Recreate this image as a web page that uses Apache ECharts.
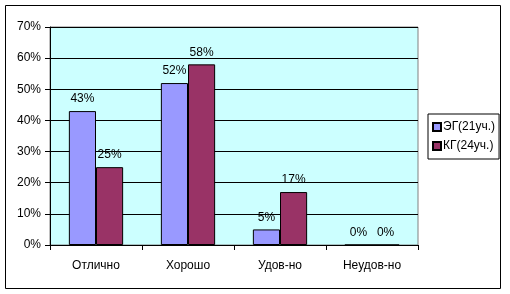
<!DOCTYPE html>
<html>
<head>
<meta charset="utf-8">
<script src="https://cdn.jsdelivr.net/npm/echarts@6/dist/echarts.min.js"></script>
<style>
* { margin: 0; padding: 0; }
body { background: #fff; }
#main { width: 510px; height: 294px; }
</style>
</head>
<body>
<div id="main"></div>
<script>
// данные
var categories = ['Отлично', 'Хорошо', 'Удов-но', 'Неудов-но'];
var seriesNames = ['ЭГ(21уч.)', 'КГ(24уч.)'];
var egValues = [43, 52, 5, 0];
var kgValues = [25, 58, 17, 0];
var yTicks = [0, 10, 20, 30, 40, 50, 60, 70];

var font = 'Liberation Sans, Arial, sans-serif';
var myChart = echarts.init(document.getElementById('main'));

var labelOpt = {
	show: true,
	position: 'top',
	distance: 6,
	formatter: '{c}%',
	color: '#000',
	fontFamily: font,
	fontSize: 12
};

var option = {
	animation: false,
	textStyle: { fontFamily: font },
	graphic: [{
		type: 'rect',
		shape: { x: 5.5, y: 5.5, width: 495, height: 283 },
		style: { fill: 'none', stroke: '#000', lineWidth: 1 },
		z: 100
	}],
	grid: {
		left: 50, top: 27, width: 368, height: 218,
		show: true,
		backgroundColor: '#CCFFFF',
		borderColor: '#808080',
		borderWidth: 1
	},
	legend: {
		orient: 'vertical',
		left: 428, top: 114,
		itemWidth: 8, itemHeight: 8, itemGap: 7,
		padding: [7, 4, 7, 4],
		borderColor: '#000', borderWidth: 1,
		backgroundColor: '#fff',
		textStyle: { fontFamily: font, fontSize: 12, color: '#000', padding: [0, 0, 0, -3] },
		data: seriesNames.map(function (n) { return { name: n, icon: 'rect' }; })
	},
	xAxis: {
		type: 'category',
		data: categories,
		axisLine: { lineStyle: { color: '#000' } },
		axisTick: { show: true, length: 5, lineStyle: { color: '#000' } },
		axisLabel: { color: '#000', fontSize: 12, fontFamily: font, margin: 15 }
	},
	yAxis: {
		type: 'value',
		min: yTicks[0], max: yTicks[yTicks.length - 1], interval: 10,
		axisLine: { show: true, lineStyle: { color: '#000' } },
		axisTick: { show: true, length: 5, lineStyle: { color: '#000' } },
		axisLabel: { color: '#000', fontSize: 12, fontFamily: font, margin: 9, formatter: '{value}%' },
		splitLine: { lineStyle: { color: '#000', width: 1 } }
	},
	series: [
		{
			name: seriesNames[0], type: 'bar', data: egValues,
			barGap: '0%', barCategoryGap: '41%',
			itemStyle: { color: '#9999FF', borderColor: '#000', borderWidth: 1 },
			label: labelOpt
		},
		{
			name: seriesNames[1], type: 'bar', data: kgValues,
			itemStyle: { color: '#993366', borderColor: '#000', borderWidth: 1 },
			label: labelOpt
		}
	]
};
myChart.setOption(option);
</script>
</body>
</html>
